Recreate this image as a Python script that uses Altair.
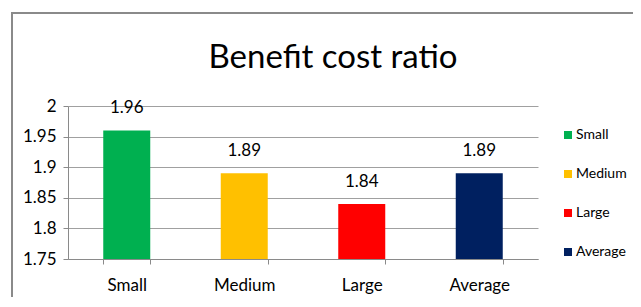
import altair as alt
import pandas as pd

categories = ["Small", "Medium", "Large", "Average"]
values = [1.96, 1.89, 1.84, 1.89]
colors = ["#00B050", "#FFC000", "#FF0000", "#002060"]
y_ticks = [1.75, 1.8, 1.85, 1.9, 1.95, 2.0]
title_text = ["Benefit cost ratio"]

df = pd.DataFrame({"category": categories, "value": values,
                   "label": [f"{v:.2f}" for v in values]})

FONT = "Lato, sans-serif"

frame = alt.Chart(pd.DataFrame({"a": [0]})).mark_rect(
    fillOpacity=0, stroke="#8a8a8a", strokeWidth=2
).encode(
    x=alt.value(-56), x2=alt.value(700), y=alt.value(-93), y2=alt.value(300)
)

title = alt.Chart(pd.DataFrame({"t": title_text})).mark_text(
    fontSize=33, font=FONT, color="#000", align="center", baseline="alphabetic"
).encode(text="t:N", x=alt.value(265), y=alt.value(-38))

x_enc = alt.X("category:N", sort=categories, title=None,
              scale=alt.Scale(paddingInner=0.6, paddingOuter=0.3),
              axis=alt.Axis(labelAngle=0, tickBand="extent", domainColor="#8a8a8a",
                            tickColor="#8a8a8a", tickSize=5, labelPadding=13,
                            labelFontSize=17, labelColor="#000", labelFont=FONT))

bars = alt.Chart(df).mark_bar().encode(
    x=x_enc,
    y=alt.Y("value:Q", title=None,
            scale=alt.Scale(domain=[1.75, 2.0], zero=False, nice=False),
            axis=alt.Axis(values=y_ticks, tickCount=10, format="~g", grid=True,
                          gridColor="#a0a0a0", domainColor="#8a8a8a", tickColor="#8a8a8a",
                          tickSize=5, labelPadding=7, labelFontSize=17, labelColor="#000",
                          labelFont=FONT, labelOverlap=False, labelFlush=False)),
    y2=alt.datum(1.75),
    color=alt.Color("category:N", sort=categories,
                    scale=alt.Scale(domain=categories, range=colors),
                    legend=alt.Legend(title=None, orient="none", legendX=493, legendY=22,
                                      symbolType="square", symbolSize=64,
                                      symbolStrokeWidth=0, symbolOpacity=1,
                                      labelFontSize=14, labelFont=FONT, labelColor="#000",
                                      labelOffset=1, rowPadding=25, padding=0)),
)

text = alt.Chart(df).mark_text(fontSize=17, font=FONT, color="#000", dy=-22).encode(
    x=alt.X("category:N", sort=categories),
    y=alt.Y("value:Q"),
    text="label:N",
)

chart = alt.layer(frame, title, bars, text).properties(
    width=470, height=153,
    autosize=alt.AutoSizeParams(type="none"),
    padding={"left": 60, "top": 98, "right": 95, "bottom": 38},
).configure_view(stroke=None)

chart.save("out.html", embed_options={"renderer": "svg", "actions": False})
